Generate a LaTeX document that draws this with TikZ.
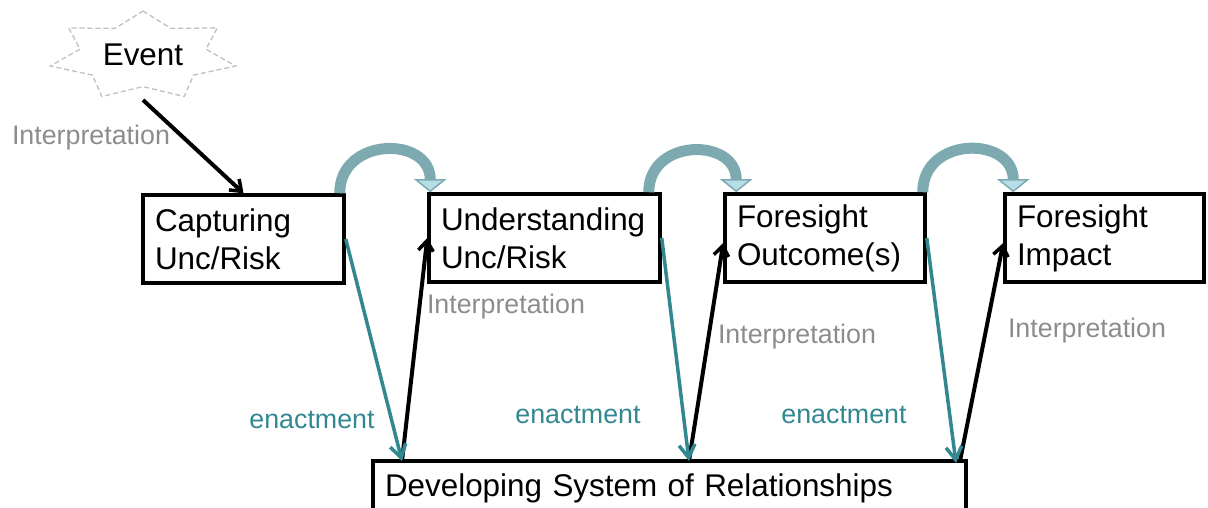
\documentclass[tikz,border=0pt]{standalone}
\usepackage{fontspec}
\setmainfont{Liberation Sans}
\usetikzlibrary{arrows.meta}

\definecolor{enactcol}{RGB}{50,135,145}
\definecolor{interpcol}{RGB}{140,140,140}
\definecolor{flowcol}{RGB}{125,170,176}
\definecolor{flowhead}{RGB}{182,222,230}

\begin{document}
\begin{tikzpicture}[x=1pt, y=-1pt, >=Stealth,
	box/.style={rectangle, draw, line width=3.5pt, align=left, inner xsep=12pt, inner ysep=0pt,
		minimum height=88pt, font=\fontsize{31.4}{38}\selectfont},
	lbl/.style={inner sep=0pt, font=\fontsize{26.8}{32}\selectfont},
	interp/.style={black, line width=4pt, -{Straight Barb[length=10pt, width=15pt, line width=3.5pt]}},
	enact/.style={enactcol, line width=3.5pt, -{Straight Barb[length=13pt, width=16pt, line width=3.5pt]}},
	flow/.style={flowcol, line width=11pt, out=90, in=90, looseness=1.6,
		-{Triangle[length=13pt, width=32pt, line width=1.5pt, fill=flowhead]}}]

	% Frame of the picture
	\useasboundingbox (0,0) rectangle (1208,508);
	\clip (0,0) rectangle (1208,508);

	% Event star
	\draw[lightgray, dash pattern=on 5pt off 3pt, line width=1.3pt, shift={(143,56)}, xscale=95, yscale=45]
		(270:1) \foreach \k in {1,...,13} { -- ({270+\k*360/14}:{isodd(\k) ? 0.68 : 1}) } -- cycle;
	\node[inner sep=0pt, font=\fontsize{31.4}{38}\selectfont] (event) at (143,55) {Event};
	\coordinate (evbase) at (143,100);

	% Boxes
	\node[box, text width=177pt] (cap) at (243.5,239) {Capturing\\Unc/Risk};
	\node[box, text width=207pt] (und) at (544.5,238) {Understanding\\Unc/Risk};
	\node[box, text width=176pt] (out) at (825,238) {Foresight\\Outcome(s)};
	\node[box, text width=175pt] (imp) at (1104.5,238) {Foresight\\Impact};
	\node[box, text width=569pt, minimum height=54pt] (dev) at (669.5,488) {Developing System of Relationships};

	% Meeting points on the bottom box
	\coordinate (d1) at (402,461);
	\coordinate (d2) at (689,461);
	\coordinate (d3) at (956,463);
	\coordinate (d4) at (960,461);

	% Labels
	\node[lbl, interpcol] (i1) at (91,138) {Interpretation};
	\node[lbl, interpcol] (i2) at (506,307) {Interpretation};
	\node[lbl, interpcol] (i3) at (797,337) {Interpretation};
	\node[lbl, interpcol] (i4) at (1087,331) {Interpretation};
	\node[lbl, enactcol] (e1) at (312,420) {enactment};
	\node[lbl, enactcol] (e2) at (578,415) {enactment};
	\node[lbl, enactcol] (e3) at (844,415) {enactment};

	% Interpretation arrows
	\path (evbase) edge[interp] (cap.north);
	\path (d1) edge[interp] (und.west);
	\path (d2) edge[interp] ([yshift=-5pt]out.west);
	\path (d4) edge[interp] ([yshift=-5pt]imp.west);

	% Enactment arrows
	\path (cap.east) edge[enact] (d1);
	\path (und.east) edge[enact] (d2);
	\path (out.east) edge[enact] (d3);

	% Curved flow arrows
	\path ([xshift=-6pt]cap.north east) edge[flow] ([xshift=3pt]und.north west);
	\path ([xshift=-13pt]und.north east) edge[flow] ([xshift=13pt]out.north west);
	\path ([xshift=-4pt]out.north east) edge[flow] ([xshift=10pt]imp.north west);
\end{tikzpicture}
\end{document}
